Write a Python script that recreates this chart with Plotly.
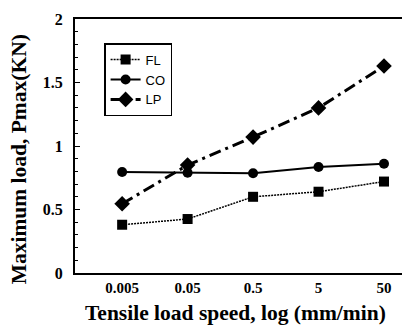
import plotly.graph_objects as go

speeds = ["0.005", "0.05", "0.5", "5", "50"]
fl = [0.38, 0.425, 0.60, 0.64, 0.72]
co = [0.795, 0.79, 0.785, 0.835, 0.86]
lp = [0.545, 0.85, 1.07, 1.30, 1.63]

xi = list(range(len(speeds)))
serif = "Liberation Serif, Times New Roman, serif"
sans = "Liberation Sans, Arial, sans-serif"

fig = go.Figure()
fig.add_trace(go.Scatter(x=xi, y=fl, name="FL", mode="lines+markers",
                         line=dict(color="black", width=1.5, dash="2px,1px"),
                         marker=dict(symbol="square", size=10, color="black")))
fig.add_trace(go.Scatter(x=xi, y=co, name="CO", mode="lines+markers",
                         line=dict(color="black", width=2),
                         marker=dict(symbol="circle", size=10, color="black")))
fig.add_trace(go.Scatter(x=xi, y=lp, name="LP", mode="lines+markers",
                         line=dict(color="black", width=3, dash="12px,5px,3px,5px"),
                         marker=dict(symbol="diamond", size=12, color="black")))

fig.update_layout(
    width=402, height=327,
    margin=dict(l=75, r=0, t=19, b=54, autoexpand=False),
    paper_bgcolor="white", plot_bgcolor="white",
    showlegend=True,
    legend=dict(x=0.089, y=0.905, xanchor="left", yanchor="top",
                bordercolor="black", borderwidth=1.5, bgcolor="white",
                font=dict(family=sans, size=13, color="black"),
                tracegroupgap=0, itemwidth=30, entrywidth=40),
    xaxis=dict(range=[-0.72, 4.275], tickmode="array", tickvals=xi, ticktext=speeds,
               showgrid=False, zeroline=False, showline=True, linecolor="black",
               linewidth=2, mirror=True, ticks="", automargin=False,
               tickfont=dict(family=serif, size=15, color="black", weight="bold")),
    yaxis=dict(range=[0, 2], tickvals=[0, 0.5, 1, 1.5, 2], ticktext=["0", "0.5", "1", "1.5", "2"],
               showgrid=False, zeroline=False, showline=True, linecolor="black",
               linewidth=2, ticks="inside", ticklen=5, tickcolor="black", automargin=False,
               minor=dict(ticks="inside", ticklen=3, dtick=0.1, tickcolor="black"),
               ticklabelstandoff=7,
               tickfont=dict(family=serif, size=16, color="black", weight="bold")),
    annotations=[
        dict(text="<b>Tensile load speed, log (mm/min)</b>", xref="paper", yref="paper",
             x=0.49, y=-0.157, xanchor="center", yanchor="middle", showarrow=False,
             font=dict(family=serif, size=21.5, color="black")),
        dict(text="<b>Maximum load, Pmax(KN)</b>", xref="paper", yref="paper",
             x=-0.17, y=0.449, xanchor="center", yanchor="middle", showarrow=False,
             textangle=-90, font=dict(family=serif, size=21.5, color="black")),
    ],
)

fig.write_html("out.html", config={"displayModeBar": False},
               post_script="document.body.style.margin='0';document.body.style.padding='0';document.body.style.overflow='hidden';")
